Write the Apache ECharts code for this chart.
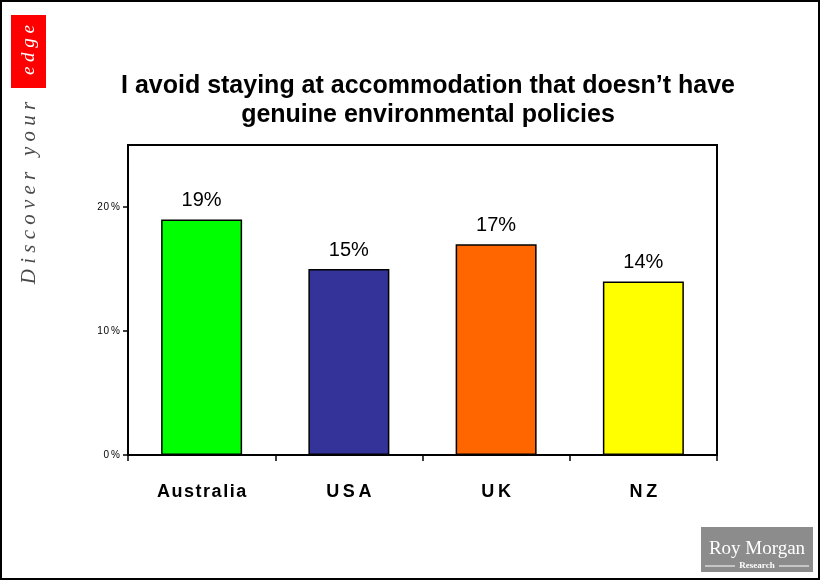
<!DOCTYPE html>
<html>
<head>
<meta charset="utf-8">
<script src="https://cdn.jsdelivr.net/npm/echarts@6/dist/echarts.min.js"></script>
<style>
  html, body { margin: 0; padding: 0; background: #fff; }
  #chart { width: 821px; height: 581px; }
</style>
</head>
<body>
<div id="chart"></div>
<script>
// Survey share per country
const countries = ['Australia', 'USA', 'UK', 'NZ'];
const shares = [19, 15, 17, 14];
const barColors = ['#00FF00', '#333399', '#FF6600', '#FFFF00'];
const yTicks = [0, 10, 20];

const chart = echarts.init(document.getElementById('chart'));

chart.setOption({
  animation: false,
  backgroundColor: '#fff',
  title: {
    text: 'I avoid staying at accommodation that doesn\u2019t have\ngenuine environmental policies',
    left: 423,
    top: 67,
    textAlign: 'center',
    textStyle: {
      fontFamily: 'Liberation Sans, Arial, sans-serif',
      fontWeight: 'bold',
      fontSize: 25,
      lineHeight: 29,
      color: '#000'
    }
  },
  grid: {
    left: 128,
    right: 104,
    top: 145,
    bottom: 126,
    show: true,
    borderColor: '#000',
    borderWidth: 2,
    backgroundColor: '#fff'
  },
  xAxis: {
    type: 'category',
    data: countries,
    axisLine: { lineStyle: { color: '#000', width: 2 } },
    axisTick: { show: true, length: 6, lineStyle: { color: '#000', width: 1.5 } },
    axisLabel: {
      margin: 28,
      fontFamily: 'Liberation Sans, Arial, sans-serif',
      fontWeight: 'bold',
      fontSize: 18,
      color: '#000',
      formatter: v => v.split('').join(v.length <= 3 ? '\u2009' : '\u200A')
    }
  },
  yAxis: {
    type: 'value',
    min: 0,
    max: 25,
    interval: 10,
    splitLine: { show: false },
    axisLine: { show: true, lineStyle: { color: '#000', width: 2 } },
    axisTick: { show: true, length: 5, customValues: yTicks, lineStyle: { color: '#000', width: 1.5 } },
    axisLabel: {
      margin: 8,
      customValues: yTicks,
      fontFamily: 'Liberation Sans, Arial, sans-serif',
      fontSize: 10,
      color: '#000',
      formatter: v => String(v).split('').join('\u200A') + '\u2009%'
    }
  },
  series: [{
    type: 'bar',
    barWidth: '55%',
    data: shares.map((v, i) => ({
      value: v,
      itemStyle: { color: barColors[i], borderColor: '#000', borderWidth: 1.5 }
    })),
    label: {
      show: true,
      position: 'top',
      distance: 9,
      formatter: p => p.value + '%',
      fontFamily: 'Liberation Sans, Arial, sans-serif',
      fontSize: 20,
      color: '#000'
    }
  }],
  graphic: [
    // page frame
    {
      type: 'rect',
      shape: { x: 1, y: 1, width: 818, height: 578 },
      style: { fill: 'none', stroke: '#000', lineWidth: 2 },
      silent: true
    },
    // "Discover your edge" tagline down the left edge
    {
      type: 'rect',
      shape: { x: 11, y: 15, width: 35, height: 73 },
      style: { fill: '#FF0000' }
    },
    {
      type: 'text',
      x: 29,
      y: 50,
      rotation: Math.PI / 2,
      style: {
        text: 'e d g e',
        fill: '#fff',
        font: 'italic 19px "Liberation Serif", "DejaVu Serif", serif',
        align: 'center',
        verticalAlign: 'middle'
      }
    },
    {
      type: 'text',
      x: 29,
      y: 193,
      rotation: Math.PI / 2,
      style: {
        text: 'D i s c o v e r   y o u r',
        fill: '#2a2a2a',
        opacity: 0.85,
        font: 'italic 21px "Liberation Serif", "DejaVu Serif", serif',
        align: 'center',
        verticalAlign: 'middle'
      }
    },
    // brand block, bottom right
    {
      type: 'rect',
      shape: { x: 701, y: 527, width: 112, height: 45 },
      style: { fill: '#8C8C8C' }
    },
    {
      type: 'text',
      x: 757,
      y: 549,
      style: {
        text: 'Roy Morgan',
        fill: '#fff',
        font: '19px "Liberation Serif", "DejaVu Serif", serif',
        align: 'center',
        verticalAlign: 'middle'
      }
    },
    {
      type: 'text',
      x: 757,
      y: 566,
      style: {
        text: 'Research',
        fill: '#fff',
        font: 'bold 9px "Liberation Serif", "DejaVu Serif", serif',
        align: 'center',
        verticalAlign: 'middle'
      }
    },
    {
      type: 'line',
      shape: { x1: 705, y1: 566, x2: 735, y2: 566 },
      style: { stroke: '#fff', lineWidth: 1 }
    },
    {
      type: 'line',
      shape: { x1: 779, y1: 566, x2: 809, y2: 566 },
      style: { stroke: '#fff', lineWidth: 1 }
    }
  ]
});
</script>
</body>
</html>
